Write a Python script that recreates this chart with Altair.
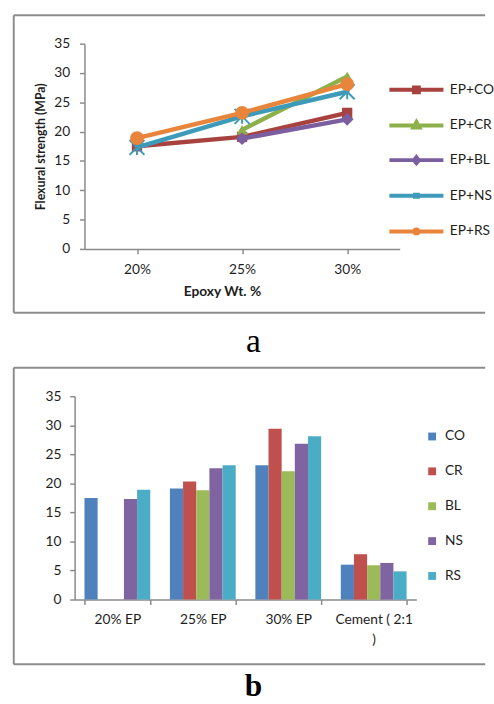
import altair as alt
import pandas as pd

# ---------------- data ----------------
epoxy = ["20%", "25%", "30%"]
line_series = ["EP+CO", "EP+CR", "EP+BL", "EP+NS", "EP+RS"]
ep_co = [17.5, 19.1, 23.2]
ep_cr = [None, 20.3, 29.4]
ep_bl = [None, 18.8, 22.1]
ep_ns = [17.3, 22.6, 26.8]
ep_rs = [18.9, 23.2, 28.1]

categories = ["20% EP", "25% EP", "30% EP", "Cement ( 2:1 )"]
bar_series = ["CO", "CR", "BL", "NS", "RS"]
co = [17.5, 19.1, 23.1, 6.0]
cr = [None, 20.3, 29.4, 7.8]
bl = [None, 18.8, 22.1, 5.9]
ns = [17.3, 22.6, 26.8, 6.3]
rs = [18.9, 23.1, 28.1, 4.85]

y_ticks = [0, 5, 10, 15, 20, 25, 30, 35]

# ---------------- styles ----------------
line_colors = ["#A8423F", "#8EB04B", "#7B5EA0", "#3D9BB9", "#E8853B"]
bar_colors = ["#4F81BD", "#C0504D", "#9BBB59", "#8064A2", "#4BACC6"]
FONT = "Lato"
LABEL_COLOR = "#1e1e1e"
AXIS_COLOR = "#8a8a8a"
BORDER = "#8c8c8c"

rows = []
for name, vals in zip(line_series, [ep_co, ep_cr, ep_bl, ep_ns, ep_rs]):
    for e, v in zip(epoxy, vals):
        if v is not None:
            rows.append({"epoxy": e, "series": name, "value": v})
line_df = pd.DataFrame(rows)

rows = []
for name, vals in zip(bar_series, [co, cr, bl, ns, rs]):
    for c, v in zip(categories, vals):
        if v is not None:
            rows.append({"cat": c, "series": name, "value": v})
bar_df = pd.DataFrame(rows)

one = pd.DataFrame({"k": [0]})

# ---------------- top chart (a) ----------------
W1, H1 = 331, 209
x_top = alt.X(
    "epoxy:N", sort=epoxy,
    scale=alt.Scale(type="point", domain=epoxy, range=[10, W1], padding=0.5),
    axis=alt.Axis(title="Epoxy Wt. %", titleFont=FONT, titleFontSize=14, titleFontWeight="bold",
                  titleColor=LABEL_COLOR, titleX=150, titleY=43, titleBaseline="middle",
                  labelAngle=0, labelPadding=9, labelBaseline="top"),
)
y_top = alt.Y(
    "value:Q", scale=alt.Scale(domain=[0, 35]),
    axis=alt.Axis(values=y_ticks, offset=-10, title="Flexural strength (MPa)", titleFont=FONT,
                  titleFontSize=12.5, titleFontWeight="bold", titleColor=LABEL_COLOR,
                  titlePadding=6, labelPadding=10),
)

marker_shapes = ["square", "triangle-up", "diamond", "M-1,-1L1,1M-1,1L1,-1M0,-1L0,1", "circle"]
marker_sizes = [110, 130, 170, 230, 200]
marker_filled = [True, True, True, False, True]

layers = []
for i, name in enumerate(line_series):
    base = alt.Chart(line_df).transform_filter(alt.datum.series == name)
    layers.append(base.mark_line(color=line_colors[i], strokeWidth=4.5, strokeCap="round",
                                 strokeJoin="round").encode(x=x_top, y=y_top))
    pt = dict(shape=marker_shapes[i], size=marker_sizes[i], filled=marker_filled[i],
              color=line_colors[i], opacity=1)
    if not marker_filled[i]:
        pt["strokeWidth"] = 2
    layers.append(base.mark_point(**pt).encode(x=x_top, y=y_top))

legend_paths = [
    "M-2.75,0H2.75M-0.25,-0.25H0.25V0.25H-0.25Z",
    "M-2.75,0H2.75M0,-0.35L0.3,0.2L-0.3,0.2Z",
    "M-2.75,0H2.75M0,-0.3L0.25,0L0,0.3L-0.25,0Z",
    "M-2.75,0H2.75M-0.15,-0.3V0.3M0.15,-0.3V0.3",
    "M-2.75,0H2.75M0.2,0A0.2,0.2 0 1,1 -0.2,0A0.2,0.2 0 1,1 0.2,0Z",
]
leg_top = alt.Legend(title=None, orient="none", legendX=336, legendY=35, padding=0,
                     symbolSize=400, symbolStrokeWidth=4, labelFont=FONT, labelFontSize=14,
                     labelColor=LABEL_COLOR, labelOffset=22, rowPadding=13.3)
legend_layer = alt.Chart(line_df).transform_filter("false").mark_point(
    filled=False, opacity=1, strokeWidth=4).encode(
    x=x_top, y=y_top,
    color=alt.Color("series:N", scale=alt.Scale(domain=line_series, range=line_colors), legend=leg_top),
    shape=alt.Shape("series:N", scale=alt.Scale(domain=line_series, range=legend_paths), legend=leg_top),
)
layers.append(legend_layer)


def border(top, bottom, left, right):
    b = alt.Chart(one)
    return [
        b.mark_rule(color=BORDER, strokeWidth=2).encode(x=alt.value(left), x2=alt.value(right), y=alt.value(top)),
        b.mark_rule(color=BORDER, strokeWidth=2).encode(x=alt.value(left), x2=alt.value(right), y=alt.value(bottom)),
        b.mark_rule(color=BORDER, strokeWidth=2).encode(x=alt.value(left), y=alt.value(top), y2=alt.value(bottom)),
    ]


layers += border(-29, 274, -62, 418)
layers.append(alt.Chart(one).mark_text(text="a", font="Liberation Serif", fontSize=34, color="#000",
                                       baseline="alphabetic").encode(x=alt.value(182), y=alt.value(314)))

top = alt.layer(*layers).properties(width=W1, height=H1)

# ---------------- bottom chart (b) ----------------
W2, H2 = 348, 207
bars = alt.Chart(bar_df).mark_bar().encode(
    x=alt.X("cat:N", sort=categories,
            scale=alt.Scale(domain=categories, paddingInner=0.23, paddingOuter=0.115),
            axis=alt.Axis(title=None, tickBand="extent", labelAngle=0, labelPadding=8,
                          labelBaseline="top", labelLineHeight=21,
                          labelExpr="datum.value == 'Cement ( 2:1 )' ? ['Cement ( 2:1', ')'] : datum.value")),
    xOffset=alt.XOffset("series:N", sort=bar_series, scale=alt.Scale(domain=bar_series)),
    y=alt.Y("value:Q", scale=alt.Scale(domain=[0, 35]),
            axis=alt.Axis(values=y_ticks, title=None, labelPadding=9)),
    color=alt.Color("series:N", scale=alt.Scale(domain=bar_series, range=bar_colors),
                    legend=alt.Legend(title=None, orient="none", legendX=357, legendY=34, padding=0,
                                      symbolType="square", symbolSize=64, symbolStrokeWidth=0,
                                      labelFont=FONT, labelFontSize=14, labelColor=LABEL_COLOR,
                                      labelOffset=6, rowPadding=21.5)),
)
blayers = [bars] + border(-29, 273, -62, 418)
blayers.append(alt.Chart(one).mark_text(text="b", font="Liberation Serif", fontSize=32, fontWeight="bold",
                                        color="#000", baseline="alphabetic").encode(x=alt.value(182), y=alt.value(305)))
bottom = alt.layer(*blayers).properties(width=W2, height=H2)

chart = alt.vconcat(top, bottom, spacing=8).resolve_scale(
    color="independent", shape="independent", xOffset="independent"
).resolve_legend(color="independent", shape="independent").properties(
    padding={"left": 13, "top": 8, "right": 0, "bottom": 0}, background="white"
).configure_view(stroke=None).configure_axis(
    grid=False, domainColor=AXIS_COLOR, domainWidth=1.5, tickColor=AXIS_COLOR, tickWidth=1.5,
    tickSize=5, labelFont=FONT, labelFontSize=14, labelColor=LABEL_COLOR,
)

chart.save("out.html", embed_options={"renderer": "svg", "actions": False})
